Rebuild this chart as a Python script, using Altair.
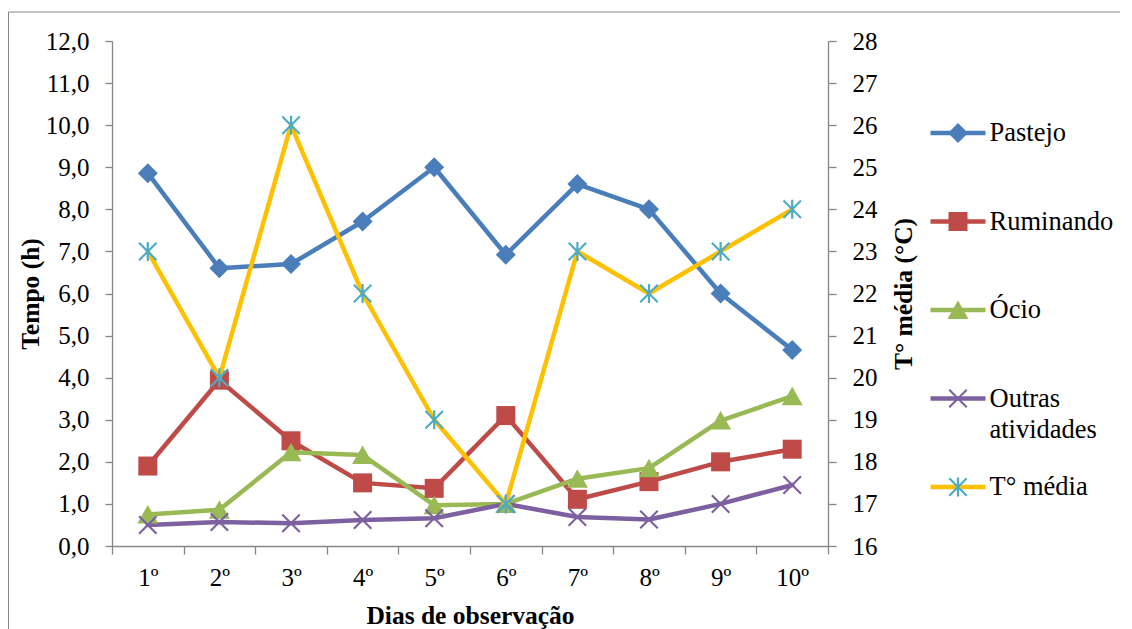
import altair as alt
import pandas as pd

# ---------------- data ----------------
days = ["1º", "2º", "3º", "4º", "5º", "6º", "7º", "8º", "9º", "10º"]
series_names = ["Pastejo", "Ruminando", "Ócio", "Outras atividades", "T° média"]
pastejo = [8.86, 6.60, 6.70, 7.71, 9.00, 6.92, 8.60, 8.00, 6.00, 4.66]
ruminando = [1.90, 3.94, 2.50, 1.50, 1.37, 3.10, 1.11, 1.53, 2.00, 2.30]
ocio = [0.75, 0.86, 2.23, 2.16, 0.97, 1.00, 1.60, 1.85, 2.98, 3.56]
outras = [0.50, 0.57, 0.54, 0.62, 0.66, 1.00, 0.69, 0.63, 1.00, 1.45]
temperatura = [23, 20, 26, 22, 19, 17, 23, 22, 23, 24]
left_ticks = list(range(0, 13))
right_ticks = list(range(16, 29))
title_text = "(pastejo, ruminação, ócio e outras atividades) em cada dia de observações"
x_title = "Dias de observação"
left_title = "Tempo (h)"
right_title = "T° média (°C)"

line_colors = ["#4A7EBB", "#BE4B48", "#98B954", "#7D60A0", "#FFC000"]
marker_colors = ["#4A7EBB", "#BE4B48", "#98B954", "#7D60A0", "#4BACC6"]

# ---------------- marker shapes (unit paths, drawn small inside a 55px symbol box) ----------------
K = 20 / 55


def fmt(v):
    return f"{v * K:.4f}"


def poly(pts):
    return "M" + "L".join(f"{fmt(a)},{fmt(b)}" for a, b in pts) + "Z"


def x_pts(s, d):
    return [(-s, -s + d), (-s + d, -s), (0, -d), (s - d, -s), (s, -s + d), (d, 0),
            (s, s - d), (s - d, s), (0, d), (-s + d, s), (-s, s - d), (-d, 0)]


diamond = poly([(-1, 0), (0, -1), (1, 0), (0, 1)])
square = poly([(-0.95, -0.95), (0.95, -0.95), (0.95, 0.95), (-0.95, 0.95)])
triangle = poly([(0, -0.95), (1.05, 0.9), (-1.05, 0.9)])
cross_x = poly(x_pts(0.95, 0.15))
asterisk = poly(x_pts(0.95, 0.15)) + poly([(-0.11, -0.95), (0.11, -0.95), (0.11, 0.95), (-0.11, 0.95)])
marker_shapes = [diamond, square, triangle, cross_x, asterisk]

# ---------------- tables ----------------
left_series = {"Pastejo": pastejo, "Ruminando": ruminando, "Ócio": ocio,
               "Outras atividades": outras}
rows = []
for s, vals in left_series.items():
    for i, (d, v) in enumerate(zip(days, vals)):
        rows.append({"dia": d, "serie": s, "marca": "m_" + s, "valor": v, "ordem": i})
left_df = pd.DataFrame(rows)
right_df = pd.DataFrame({"dia": days, "serie": "T° média", "marca": "m_T° média",
                         "valor": temperatura, "ordem": list(range(len(days)))})
frame_df = pd.DataFrame({"k": [0]})

FONT = "Liberation Serif"
GRAY = "#868686"

label_expr_line = ("datum.label == 'Outras atividades' ? ['Outras', 'atividades'] "
                   ": [datum.label, '']")
label_expr_mark = ("replace(datum.label, 'm_', '') == 'Outras atividades' ? ['Outras', 'atividades'] "
                   ": [replace(datum.label, 'm_', ''), '']")

common_legend = dict(title=None, orient="none", direction="vertical", legendX=816, legendY=62,
                     labelFontSize=26.5, labelFont=FONT, labelColor="black",
                     labelBaseline="middle", rowPadding=13.5, labelLimit=400,
                     symbolSize=3025, symbolStrokeWidth=4.5, labelOffset=1.5)

line_legend = alt.Legend(symbolType="M-1,0H1", labelExpr=label_expr_line, **common_legend)
mark_legend = alt.Legend(symbolStrokeColor="transparent", labelOpacity=0,
                         labelExpr=label_expr_mark, **common_legend)

x_enc = alt.X("dia:N", bandPosition=0.5,
              scale=alt.Scale(type="band", domain=days, paddingInner=0, paddingOuter=0),
              axis=alt.Axis(title=x_title, tickBand="extent", tickSize=8, labelPadding=11,
                            labelAngle=0, labelFontSize=25, titleX=358, titleY=77,
                            titleBaseline="alphabetic", titleAlign="center"))

y_left = alt.Y("valor:Q",
               scale=alt.Scale(domain=[0, 12], nice=False, zero=False),
               axis=alt.Axis(orient="left", values=left_ticks, tickSize=7, labelPadding=16,
                             labelExpr="replace(format(datum.value, '.1f'), '.', ',')",
                             labelFontSize=25, title=left_title, titleAngle=270,
                             titleX=-74, titleY=252.5, titleBaseline="alphabetic",
                             titleAlign="center"))
y_right = alt.Y("valor:Q",
                scale=alt.Scale(domain=[16, 28], nice=False, zero=False),
                axis=alt.Axis(orient="right", values=right_ticks, tickSize=8, labelPadding=16,
                              format="d", labelFontSize=25, title=right_title, titleAngle=270,
                              titleX=83, titleY=252.5, titleBaseline="alphabetic",
                              titleAlign="center"))

color_enc = alt.Color("serie:N", scale=alt.Scale(domain=series_names, range=line_colors),
                      legend=line_legend)
mark_domain = ["m_" + s for s in series_names]
fill_enc = alt.Fill("marca:N", scale=alt.Scale(domain=mark_domain, range=marker_colors),
                    legend=mark_legend)
shape_enc = alt.Shape("marca:N", scale=alt.Scale(domain=mark_domain, range=marker_shapes),
                      legend=mark_legend)

line_style = dict(strokeWidth=4.5, strokeJoin="round", strokeCap="round")
point_style = dict(filled=True, size=3025, opacity=1, strokeWidth=0)

left_lines = alt.Chart(left_df).mark_line(**line_style).encode(
    x=x_enc, y=y_left, color=color_enc, order=alt.Order("ordem:Q"))
left_points = alt.Chart(left_df).mark_point(**point_style).encode(
    x=x_enc, y=y_left, fill=fill_enc, shape=shape_enc)
right_line = alt.Chart(right_df).mark_line(**line_style).encode(
    x=x_enc, y=y_right, color=color_enc, order=alt.Order("ordem:Q"))
right_points = alt.Chart(right_df).mark_point(**point_style).encode(
    x=x_enc, y=y_right, fill=fill_enc, shape=shape_enc)

frame = alt.Chart(frame_df).mark_rect(fillOpacity=0, stroke=GRAY, strokeWidth=1).encode(
    x=alt.value(-103.5), x2=alt.value(3000), y=alt.value(-29), y2=alt.value(3000))

left_layer = alt.layer(left_lines, left_points)
right_layer = alt.layer(right_line, right_points)

chart = alt.layer(frame, left_layer, right_layer).resolve_scale(y="independent").properties(
    width=716, height=505,
    padding={"left": 104, "top": 33, "right": 292, "bottom": 83},
    autosize=alt.AutoSizeParams(type="none"),
    title=alt.TitleParams(text=title_text, font=FONT, fontSize=25, fontWeight="normal",
                          color="black", anchor="middle", frame="group", dx=155,
                          offset=35, baseline="alphabetic"),
).configure(
    font=FONT,
    style={"guide-label": {"lineHeight": 31, "font": FONT, "fill": "black"},
           "guide-title": {"font": FONT}},
).configure_axis(
    grid=False, domainColor=GRAY, tickColor=GRAY, domainWidth=1.3, tickWidth=1.3,
    labelColor="black", labelFont=FONT, titleFont=FONT, titleFontSize=25.5,
    titleFontWeight="bold", titleColor="black"
).configure_legend(labelFont=FONT).configure_view(strokeWidth=0)

chart.save("out.html", embed_options={"renderer": "svg", "actions": False})
